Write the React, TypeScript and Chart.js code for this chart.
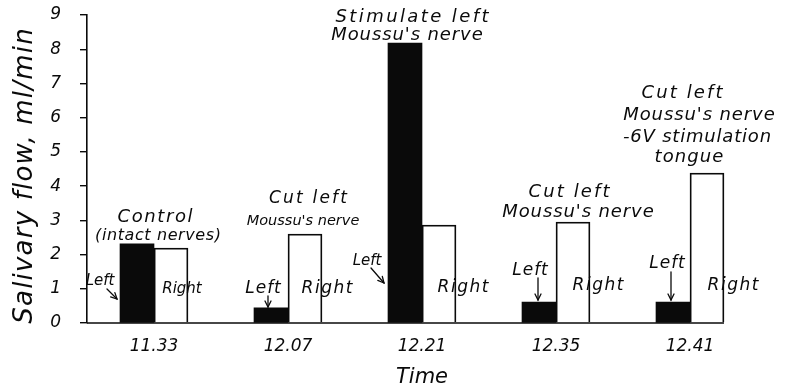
import { useEffect, useRef } from 'react';
import { Chart, registerables } from 'chart.js';

Chart.register(...registerables);

// Sample times and salivary flow (ml/min) from the left and right glands
const times = ['11.33', '12.07', '12.21', '12.35', '12.41'];
const leftFlow = [2.31, 0.44, 8.18, 0.61, 0.61];
const rightFlow = [2.19, 2.6, 2.86, 2.95, 4.38];
const yTickValues = [0, 1, 2, 3, 4, 5, 6, 7, 8, 9];

// Experimental condition written above each pair of bars
const captions = [
  ['Control', '(intact nerves)'],
  ['Cut left', "Moussu's nerve"],
  ['Stimulate left', "Moussu's nerve"],
  ['Cut left', "Moussu's nerve"],
  ['Cut left', "Moussu's nerve", '-6V stimulation', 'tongue'],
];
const sideNames = ['Left', 'Right'];
const yTitle = 'Salivary flow, ml/min';
const xTitle = 'Time';

const INK = '#0a0a0a';
const FAMILY = '"DejaVu Sans", "Liberation Sans", sans-serif';

// Caption lines: offsets from the pair centre and from the top of the taller bar
const captionLayout = [
  [{ dx: 1, dy: -22, size: 18, ls: 1.6 }, { dx: 4, dy: -4, size: 16, ls: 0.6 }],
  [{ dx: 20, dy: -31, size: 17, ls: 2.2 }, { dx: 15, dy: -9, size: 14.5, ls: 0 }],
  [{ dx: -10, dy: -21, size: 18, ls: 2.4 }, { dx: -15, dy: -3, size: 18, ls: 0.9 }],
  [{ dx: 13, dy: -25, size: 18, ls: 2.1 }, { dx: 22, dy: -5, size: 18, ls: 0.9 }],
  [
    { dx: -8, dy: -75, size: 18, ls: 2.1 },
    { dx: 9, dy: -53, size: 18, ls: 0.9 },
    { dx: 7, dy: -31, size: 18, ls: 0.8 },
    { dx: -1, dy: -11, size: 18, ls: 1.1 },
  ],
];

// "Left" labels with their arrows, offsets from the pair centre and the zero line
const leftLayout = [
  { dx: -54, dy: -38, size: 15, ls: 0, arrow: [-47, -34, -37, -24] },
  { dx: -25, dy: -30, size: 17, ls: 1, arrow: [-20, -27, -20, -16] },
  { dx: -55, dy: -58, size: 15, ls: 0, arrow: [-51, -55, -38, -40] },
  { dx: -26, dy: -48, size: 17, ls: 1, arrow: [-18, -45, -18, -23] },
  { dx: -23, dy: -55, size: 17, ls: 1, arrow: [-19, -51, -19, -23] },
];

// "Right" labels, offsets from the pair centre and the zero line
const rightLayout = [
  { dx: 28, dy: -30, size: 15, ls: 0 },
  { dx: 39, dy: -30, size: 17, ls: 1.5 },
  { dx: 41, dy: -31, size: 17, ls: 1.5 },
  { dx: 42, dy: -33, size: 17, ls: 1.5 },
  { dx: 43, dy: -33, size: 17, ls: 1.5 },
];

function drawText(ctx: CanvasRenderingContext2D, s: string, cx: number, by: number, size: number, ls: number) {
  ctx.font = `italic ${size}px ${FAMILY}`;
  (ctx as any).letterSpacing = `${ls}px`;
  ctx.textAlign = 'center';
  ctx.textBaseline = 'alphabetic';
  ctx.fillText(s, cx + ls / 2, by);
  (ctx as any).letterSpacing = '0px';
}

function drawArrow(ctx: CanvasRenderingContext2D, x1: number, y1: number, x2: number, y2: number) {
  const ang = Math.atan2(y2 - y1, x2 - x1);
  const c = Math.cos(ang);
  const s = Math.sin(ang);
  ctx.lineWidth = 1.3;
  ctx.lineCap = 'round';
  ctx.beginPath();
  ctx.moveTo(x1, y1);
  ctx.lineTo(x2, y2);
  ctx.stroke();
  const h = 6;
  const w = 3;
  ctx.beginPath();
  ctx.moveTo(x2 - h * c + w * s, y2 - h * s - w * c);
  ctx.lineTo(x2, y2);
  ctx.lineTo(x2 - h * c - w * s, y2 - h * s + w * c);
  ctx.stroke();
}

const annotations = {
  id: 'annotations',
  afterDatasetsDraw(chart: any) {
    const { ctx, chartArea } = chart;
    const xs = chart.scales.x;
    const ys = chart.scales.y;
    const y0 = ys.getPixelForValue(0);
    ctx.save();
    ctx.fillStyle = INK;
    ctx.strokeStyle = INK;

    // zero line, running out to the right edge of the last bar
    const meta = chart.getDatasetMeta(1);
    const last = meta.data[meta.data.length - 1];
    ctx.lineWidth = 1.6;
    ctx.beginPath();
    ctx.moveTo(chartArea.left, y0);
    ctx.lineTo(last.x + last.width / 2, y0);
    ctx.stroke();

    times.forEach((_, i) => {
      const gx = xs.getPixelForValue(i);
      const topY = ys.getPixelForValue(Math.max(leftFlow[i], rightFlow[i]));
      captions[i].forEach((line, j) => {
        const c = captionLayout[i][j];
        drawText(ctx, line, gx + c.dx, topY + c.dy, c.size, c.ls);
      });
      const l = leftLayout[i];
      drawText(ctx, sideNames[0], gx + l.dx, y0 + l.dy, l.size, l.ls);
      const [ax1, ay1, ax2, ay2] = l.arrow;
      drawArrow(ctx, gx + ax1, y0 + ay1, gx + ax2, y0 + ay2);
      const r = rightLayout[i];
      drawText(ctx, sideNames[1], gx + r.dx, y0 + r.dy, r.size, r.ls);
    });

    // vertical axis title, reading bottom to top
    const midY = (chartArea.top + chartArea.bottom) / 2 + 7;
    ctx.translate(31.5, midY);
    ctx.rotate(-Math.PI / 2);
    drawText(ctx, yTitle, 0, 0, 26, 1.2);
    ctx.restore();
  },
};

const W = 794;
const H = 391;

export default function App() {
  const ref = useRef<HTMLCanvasElement | null>(null);

  useEffect(() => {
    if (!ref.current) return;
    const tickFont = { family: FAMILY, size: 17, style: 'italic' as const };
    const chart = new Chart(ref.current, {
      type: 'bar',
      data: {
        labels: times,
        datasets: [
          {
            label: sideNames[0],
            data: leftFlow,
            backgroundColor: INK,
            borderWidth: 0,
            barThickness: 34,
          },
          {
            label: sideNames[1],
            data: rightFlow,
            backgroundColor: '#ffffff',
            borderColor: INK,
            borderWidth: 1.8,
            borderSkipped: 'bottom',
            barThickness: 34,
          },
        ],
      },
      options: {
        responsive: false,
        animation: false,
        layout: { padding: { top: 15, right: 37, left: 0, bottom: 0 } },
        plugins: {
          legend: { display: false },
          tooltip: { enabled: false },
        },
        scales: {
          x: {
            type: 'category',
            offset: true,
            grid: { display: false, drawTicks: false },
            border: { display: false },
            ticks: {
              color: INK,
              font: tickFont,
              padding: 13,
              maxRotation: 0,
              autoSkip: false,
            },
            title: {
              display: true,
              text: xTitle,
              color: INK,
              font: { family: FAMILY, size: 21, style: 'italic', lineHeight: 1 },
              padding: { top: 0, bottom: 3 },
            },
            afterFit: (s: any) => {
              s.height = 68;
            },
          },
          y: {
            type: 'linear',
            min: yTickValues[0],
            max: yTickValues[yTickValues.length - 1],
            afterBuildTicks: (s: any) => {
              s.ticks = yTickValues.map((v) => ({ value: v }));
            },
            ticks: {
              color: INK,
              font: tickFont,
              padding: 19,
            },
            grid: {
              drawOnChartArea: false,
              drawTicks: true,
              tickLength: 7,
              color: INK,
              lineWidth: 1.4,
            },
            border: { display: true, color: INK, width: 1.6 },
            afterFit: (s: any) => {
              s.width = 87;
              s.paddingTop = 0;
              s.paddingBottom = 0;
            },
          },
        },
      },
      plugins: [annotations],
    });
    return () => chart.destroy();
  }, []);

  return (
    <canvas
      ref={ref}
      width={W}
      height={H}
      style={{ position: 'fixed', left: 0, top: 0, display: 'block', width: W, height: H, background: '#ffffff' }}
    />
  );
}
